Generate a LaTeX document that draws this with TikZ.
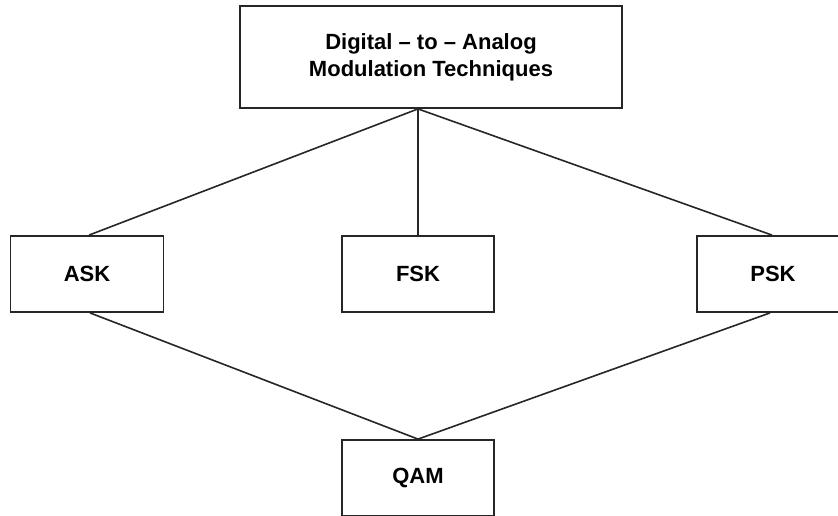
\documentclass[tikz,border=0pt]{standalone}
\usepackage{fontspec}
\setmainfont{Liberation Sans}
\begin{document}
\begin{tikzpicture}[x=1pt,y=-1pt,
  box/.style={draw=black!85, line width=1.8pt, fill=white, inner sep=0pt,
    font=\fontsize{22}{26}\selectfont\bfseries, align=center},
  link/.style={draw=black!85, line width=1.6pt}]
\useasboundingbox (0,0) rectangle (838,515);
\clip (0,0) rectangle (838,515);
\node[box, minimum width=382pt, minimum height=102pt,
  font=\fontsize{22}{27}\selectfont\bfseries] (top) at (431,57)
  {Digital -- to -- Analog\\Modulation Techniques};
\node[box, minimum width=153pt, minimum height=76pt] (ask) at (87,274) {ASK};
\node[box, minimum width=152pt, minimum height=76pt] (fsk) at (418,274) {FSK};
\node[box, minimum width=152pt, minimum height=76pt] (psk) at (773,274) {PSK};
\node[box, minimum width=152pt, minimum height=76pt] (qam) at (418,478) {QAM};
\coordinate (hub) at (top.south -| fsk.north);
\draw[link] (hub) -- ([xshift=2pt]ask.north);
\draw[link] (hub) -- (fsk.north);
\draw[link] (hub) -- ([xshift=-1pt]psk.north);
\draw[link] ([xshift=3pt]ask.south) -- (qam.north);
\draw[link] ([xshift=-3pt]psk.south) -- (qam.north);
\end{tikzpicture}
\end{document}
